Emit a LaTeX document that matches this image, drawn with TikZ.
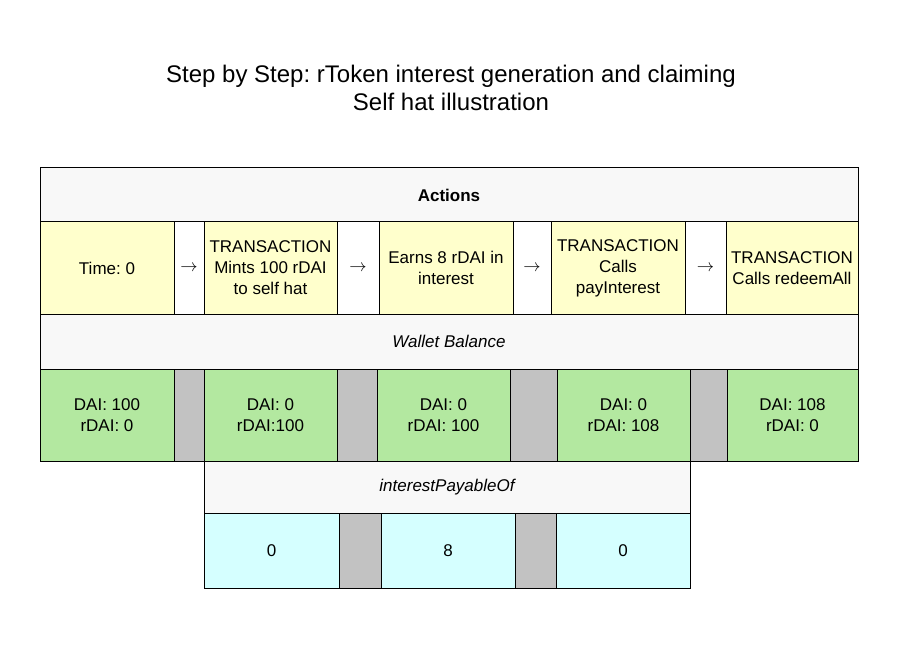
\documentclass[tikz,border=0pt]{standalone}
\usepackage{fontspec}
\usepackage{xcolor}
\setmainfont{Liberation Sans}
\frenchspacing
\definecolor{headgray}{HTML}{F8F8F8}
\definecolor{actyellow}{HTML}{FFFFCC}
\definecolor{balgreen}{HTML}{B3E8A0}
\definecolor{gapgray}{HTML}{C2C2C2}
\definecolor{paycyan}{HTML}{D5FFFF}

\begin{document}
\begin{tikzpicture}[x=1pt, y=-1pt,
    cell/.style={draw, line width=1pt, anchor=north west, inner sep=0pt, outer sep=0pt, align=center, font=\fontsize{17}{21}\selectfont},
    head_cell/.style={cell, fill=headgray, minimum height=54pt},
    act_cell/.style={cell, fill=actyellow, minimum height=92pt},
    arr_cell/.style={cell, fill=white, minimum height=92pt},
    bal_cell/.style={cell, fill=balgreen, minimum height=92pt},
    gap_cell/.style={cell, fill=gapgray, minimum height=92pt},
    pay_cell/.style={cell, fill=paycyan, minimum height=75pt}]

    \useasboundingbox[fill=white] (0,0) rectangle (902,671);

    \node[align=center, font=\fontsize{24}{28}\selectfont] (title) at (451,88) {Step by Step: rToken interest generation and claiming\\Self hat illustration};

    % actions
    \node[head_cell, minimum width=818pt, font=\fontsize{17}{21}\selectfont\bfseries] (actions) at (40,168) {Actions};
    \node[act_cell, minimum width=134pt] (act_0) at (40,222) {Time: 0};
    \node[arr_cell, minimum width=30pt] (arr_0) at (174,222) {$\rightarrow$};
    \node[act_cell, minimum width=133pt] (act_1) at (204,222) {TRANSACTION\\Mints 100 rDAI\\to self hat};
    \node[arr_cell, minimum width=42pt] (arr_1) at (337,222) {$\rightarrow$};
    \node[act_cell, minimum width=134pt] (act_2) at (379,222) {Earns 8 rDAI in\\interest};
    \node[arr_cell, minimum width=38pt] (arr_2) at (513,222) {$\rightarrow$};
    \node[act_cell, minimum width=134pt] (act_3) at (551,222) {TRANSACTION\\Calls\\payInterest};
    \node[arr_cell, minimum width=41pt] (arr_3) at (685,222) {$\rightarrow$};
    \node[act_cell, minimum width=132pt] (act_4) at (726,222) {TRANSACTION\\Calls redeemAll};

    % wallet balance
    \node[head_cell, minimum width=818pt, minimum height=55pt, font=\fontsize{17}{21}\selectfont\itshape] (wallet) at (40,314) {Wallet Balance};
    \node[bal_cell, minimum width=134pt] (bal_0) at (40,369) {DAI: 100\\rDAI: 0};
    \node[gap_cell, minimum width=30pt] (gap_0) at (174,369) {};
    \node[bal_cell, minimum width=133pt] (bal_1) at (204,369) {DAI: 0\\rDAI:100};
    \node[gap_cell, minimum width=40pt] (gap_1) at (337,369) {};
    \node[bal_cell, minimum width=133pt] (bal_2) at (377,369) {DAI: 0\\rDAI: 100};
    \node[gap_cell, minimum width=47pt] (gap_2) at (510,369) {};
    \node[bal_cell, minimum width=133pt] (bal_3) at (557,369) {DAI: 0\\rDAI: 108};
    \node[gap_cell, minimum width=37pt] (gap_3) at (690,369) {};
    \node[bal_cell, minimum width=131pt] (bal_4) at (727,369) {DAI: 108\\rDAI: 0};

    % interest payable
    \node[head_cell, minimum width=486pt, minimum height=52pt, font=\fontsize{17}{21}\selectfont\itshape] (payable) at (204,461) {interestPayableOf};
    \node[pay_cell, minimum width=135pt] (pay_0) at (204,513) {0};
    \node[gap_cell, minimum width=42pt, minimum height=75pt] (gap_4) at (339,513) {};
    \node[pay_cell, minimum width=134pt] (pay_1) at (381,513) {8};
    \node[gap_cell, minimum width=41pt, minimum height=75pt] (gap_5) at (515,513) {};
    \node[pay_cell, minimum width=134pt] (pay_2) at (556,513) {0};
\end{tikzpicture}
\end{document}
